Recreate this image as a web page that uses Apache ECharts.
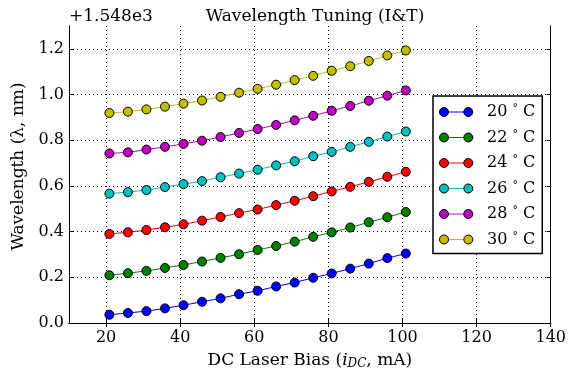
<!DOCTYPE html>
<html>
<head>
<meta charset="utf-8">
<script src="https://cdn.jsdelivr.net/npm/echarts@6/dist/echarts.min.js"></script>
<style>
  html, body { margin: 0; padding: 0; background: #fff; }
  #chart { width: 569px; height: 375px; }
</style>
</head>
<body>
<div id="chart"></div>
<script>
// bias current (mA) and wavelength offset from 1548 nm
const bias = [20.9, 25.9, 30.9, 35.9, 40.9, 45.9, 50.9, 55.9, 60.9, 65.9, 70.9, 75.9, 80.9, 85.9, 90.9, 95.9, 100.9];
const t20 = [0.036, 0.044, 0.052, 0.064, 0.078, 0.093, 0.108, 0.126, 0.141, 0.160, 0.177, 0.198, 0.217, 0.238, 0.260, 0.284, 0.304];
const t22 = [0.209, 0.218, 0.228, 0.241, 0.254, 0.269, 0.285, 0.301, 0.320, 0.337, 0.356, 0.377, 0.397, 0.418, 0.441, 0.463, 0.486];
const t24 = [0.390, 0.397, 0.407, 0.419, 0.432, 0.448, 0.464, 0.481, 0.497, 0.516, 0.535, 0.555, 0.576, 0.596, 0.618, 0.640, 0.662];
const t26 = [0.566, 0.573, 0.582, 0.595, 0.608, 0.621, 0.638, 0.654, 0.671, 0.690, 0.708, 0.730, 0.749, 0.771, 0.793, 0.816, 0.838];
const t28 = [0.742, 0.747, 0.759, 0.771, 0.784, 0.798, 0.814, 0.832, 0.849, 0.867, 0.887, 0.907, 0.929, 0.950, 0.973, 0.995, 1.018];
const t30 = [0.919, 0.925, 0.935, 0.947, 0.960, 0.974, 0.990, 1.008, 1.025, 1.043, 1.063, 1.082, 1.104, 1.124, 1.147, 1.171, 1.193];
const temps = ['20°C', '22°C', '24°C', '26°C', '28°C', '30°C'];
const xTicks = [20, 40, 60, 80, 100, 120, 140];
const yTicks = [0, 0.2, 0.4, 0.6, 0.8, 1.0, 1.2];

const colors = ['#0000ff', '#007f00', '#ff0000', '#00bfbf', '#bf00bf', '#bfbf00'];
const font = 'DejaVu Serif';
const allData = [t20, t22, t24, t26, t28, t30];

var myChart = echarts.init(document.getElementById('chart'));

const tickCommon = {show: true, inside: true, length: 4, lineStyle: {color: '#000', width: 1}};
const lineCommon = {show: true, lineStyle: {color: '#000', width: 1}};

const legendBase = {
  orient: 'vertical',
  left: 433,
  top: 96,
  padding: [8, 7, 6, 6],
  itemWidth: 34,
  itemHeight: 9,
  itemGap: 9.5,
  selectedMode: false,
  data: temps,
  formatter: (n) => '{t|' + n.replace('°C', '') + ' }{d|°}{t| C}',
};
const legendRich = (c) => ({
  t: {fontFamily: font, fontSize: 16, color: c},
  d: {fontFamily: font, fontSize: 11, color: c, verticalAlign: 'top', padding: [0, 0, 6, 0]}
});

myChart.setOption({
  animation: false,
  backgroundColor: '#fff',
  title: [{
    text: 'Wavelength Tuning (I&T)',
    left: 310,
    textAlign: 'center',
    top: 3,
    textStyle: {fontFamily: font, fontSize: 17, fontWeight: 'normal', color: '#000'}
  }, {
    text: '+1.548e3',
    left: 64,
    top: 3,
    textStyle: {fontFamily: font, fontSize: 17, fontWeight: 'normal', color: '#000'}
  }],
  grid: {left: 69, right: 18, top: 26, bottom: 51},
  legend: [Object.assign({}, legendBase, {
    icon: 'path://M0,4.5 L34,4.5 L34,5.5 L0,5.5 Z',
    backgroundColor: '#fff',
    borderColor: '#000',
    borderWidth: 1.5,
    borderRadius: 0,
    z: 5,
    itemStyle: {borderWidth: 0},
    textStyle: {color: '#000', lineHeight: 16, padding: [0, 0, 0, 9], rich: legendRich('#000')}
  }), Object.assign({}, legendBase, {
    icon: 'path://M0,5 A5,5 0 1,0 10,5 A5,5 0 1,0 0,5 Z M27,5 A5,5 0 1,0 37,5 A5,5 0 1,0 27,5 Z',
    itemWidth: 34.5,
    z: 6,
    itemStyle: {borderColor: '#000', borderWidth: 1},
    textStyle: {color: 'rgba(0,0,0,0)', lineHeight: 16, padding: [0, 0, 0, 9], rich: legendRich('rgba(0,0,0,0)')}
  })],
  xAxis: [{
    type: 'value',
    min: 10,
    max: 140,
    axisLine: lineCommon,
    axisTick: Object.assign({customValues: xTicks}, tickCommon),
    axisLabel: {customValues: xTicks, fontFamily: font, fontSize: 16, color: '#000', margin: 7},
    splitLine: {show: true, lineStyle: {color: '#000', width: 1, type: [1, 3]}},
    name: '{a|DC Laser Bias (}{i|i}{s|DC}{a|, mA)}',
    nameLocation: 'middle',
    nameGap: 28,
    nameTextStyle: {
      rich: {
        a: {fontFamily: font, fontSize: 17, color: '#000'},
        i: {fontFamily: font, fontSize: 17, fontStyle: 'italic', color: '#000'},
        s: {fontFamily: font, fontSize: 12, fontStyle: 'italic', color: '#000', verticalAlign: 'bottom', padding: [7, 0, 0, 0]}
      }
    }
  }, {
    type: 'value',
    position: 'top',
    min: 10,
    max: 140,
    axisLine: lineCommon,
    axisTick: Object.assign({customValues: xTicks}, tickCommon),
    axisLabel: {show: false},
    splitLine: {show: false}
  }],
  yAxis: [{
    type: 'value',
    min: 0,
    max: 1.3,
    axisLine: lineCommon,
    axisTick: Object.assign({customValues: yTicks}, tickCommon),
    axisLabel: {customValues: yTicks, fontFamily: font, fontSize: 16, color: '#000', margin: 5,
      formatter: (v) => v.toFixed(1)},
    splitLine: {show: true, lineStyle: {color: '#000', width: 1, type: [1, 3]}},
    name: 'Wavelength (λ, nm)',
    nameLocation: 'middle',
    nameRotate: 90,
    nameGap: 42,
    nameTextStyle: {fontFamily: font, fontSize: 17, color: '#000', padding: [0, 0, 0, 16]}
  }, {
    type: 'value',
    position: 'right',
    min: 0,
    max: 1.3,
    axisLine: lineCommon,
    axisTick: Object.assign({customValues: yTicks}, tickCommon),
    axisLabel: {show: false},
    splitLine: {show: false}
  }],
  series: temps.map((name, k) => ({
    name: name,
    type: 'line',
    data: bias.map((x, i) => [x, allData[k][i]]),
    symbol: 'circle',
    symbolSize: 9,
    color: colors[k],
    itemStyle: {color: colors[k], borderColor: '#000', borderWidth: 1},
    lineStyle: {color: colors[k], width: 1},
    emphasis: {disabled: true}
  }))
});
</script>
</body>
</html>
